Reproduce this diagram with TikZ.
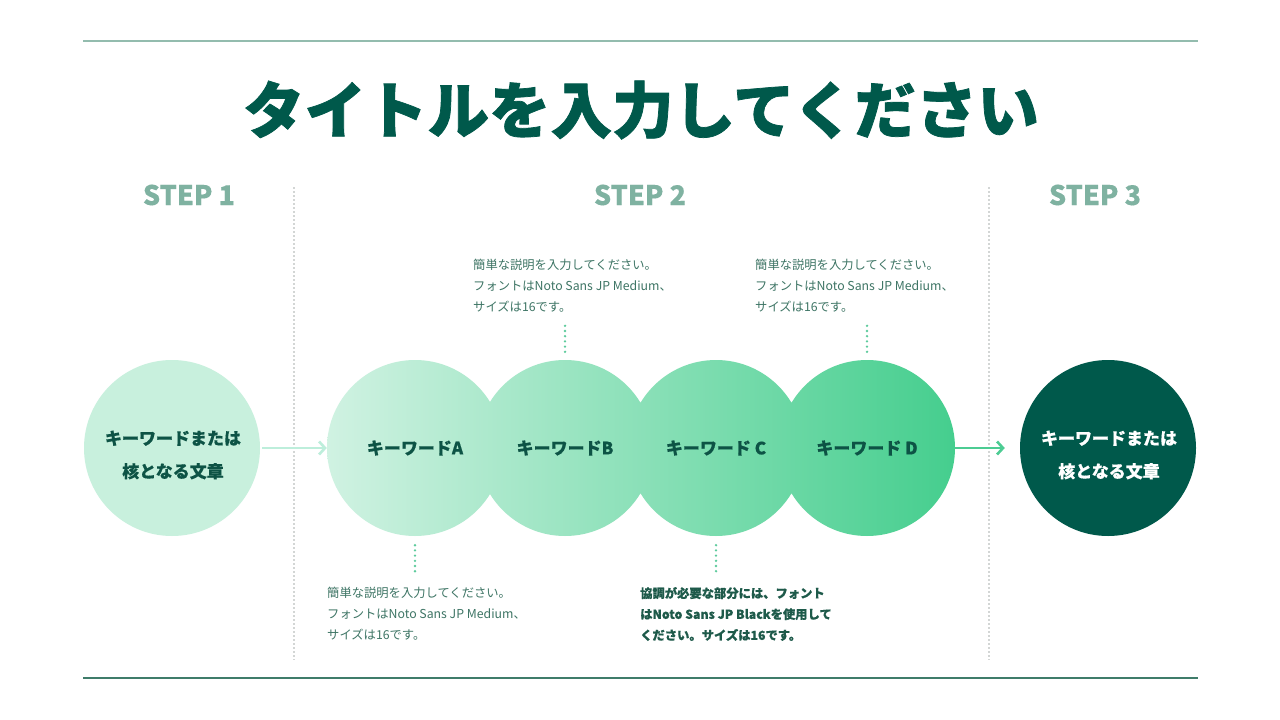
\documentclass[tikz,border=0pt]{standalone}
\usepackage{fontspec}
\setmainfont{Noto Sans CJK JP}[BoldFeatures={FakeBold=0.4}]
\newfontfamily\titlefont{Noto Sans CJK JP}[BoldFeatures={FakeBold=1.2}]
\usetikzlibrary{arrows.meta,calc}
\definecolor{titlec}{HTML}{00594B}
\definecolor{stepc}{HTML}{7FB2A1}
\definecolor{topline}{HTML}{93BCAE}
\definecolor{botline}{HTML}{3F7C6A}
\definecolor{descc}{HTML}{3E7565}
\definecolor{boldc}{HTML}{1E5A4A}
\definecolor{kwc}{HTML}{0D5345}
\definecolor{c1fill}{HTML}{C8F0DD}
\definecolor{arr1c}{HTML}{BDEEDB}
\definecolor{arr2c}{HTML}{4CCC93}
\definecolor{gradl}{HTML}{D0F2E2}
\definecolor{gradr}{HTML}{45CE8E}
\definecolor{dotc}{HTML}{5CCB9C}
\definecolor{vdot}{HTML}{D3D6D5}
\tikzset{
  kw/.style={circle, minimum size=176pt, inner sep=0pt, align=center,
    text=kwc, font=\bfseries\fontsize{17}{33}\selectfont},
  kwtext/.style={inner sep=0pt, align=center, text=kwc, font=\bfseries\fontsize{17}{33}\selectfont},
  steplabel/.style={text=stepc, font=\bfseries\fontsize{27}{30}\selectfont, inner sep=0pt},
  desc/.style={anchor=west, align=left, inner sep=0pt, text=descc,
    font=\fontsize{12.3}{21}\selectfont},
  descbold/.style={desc, text=boldc, font=\bfseries\fontsize{12.3}{21}\selectfont},
  vsep/.style={draw=vdot, line width=1.5pt, dash pattern=on 1.5pt off 2.5pt},
  dotline/.style={draw=dotc, line width=2.6pt, line cap=round, dash pattern=on 0pt off 5.2pt},
  flow/.style={line width=2.6pt, -{Straight Barb[length=6pt,width=13pt,line width=2.6pt]}},
}
\begin{document}
\begin{tikzpicture}[x=1pt,y=-1pt]
\useasboundingbox (0,0) rectangle (1280,720);
\fill[white] (0,0) rectangle (1280,720);
% top and bottom rules
\draw[topline, line width=2pt] (83,41) -- (1198,41);
\draw[botline, line width=2pt] (83,678) -- (1198,678);
% title
\node[text=titlec, font=\titlefont\bfseries\fontsize{61.5}{70}\selectfont, inner sep=0pt] (title) at (641,110) {タイトルを入力してください};
% step labels
\node[steplabel] (st1) at (189,195) {STEP 1};
\node[steplabel] (st2) at (640,195) {STEP 2};
\node[steplabel] (st3) at (1095,195) {STEP 3};
% separators
\draw[vsep] (294,187) -- (294,660);
\draw[vsep] (989,187) -- (989,660);
% gradient union of step 2 circles
\shade[left color=gradl, right color=gradr]
  (415,448) circle[radius=88pt] (565,448) circle[radius=88pt]
  (716,448) circle[radius=88pt] (867,448) circle[radius=88pt];
% circles
\node[kw, fill=c1fill] (s1) at (172,448) {};
\node[kwtext] (s1t) at (173,455) {キーワードまたは\\核となる文章};
\node[kw] (ka) at (415,448) {キーワードA};
\node[kw] (kb) at (565,448) {キーワードB};
\node[kw] (kc) at (716,448) {キーワード C};
\node[kw] (kd) at (867,448) {キーワード D};
\node[kw, fill=titlec] (s3) at (1108,448) {};
\node[kwtext, text=white] (s3t) at (1109,455) {キーワードまたは\\核となる文章};
% flow arrows
\draw[flow, arr1c] ([xshift=2pt]s1.east) -- (ka.west);
\draw[flow, arr2c] (kd.east) -- ([xshift=-15pt]s3.west);
% descriptions
\node[desc] (db) at (473,286) {簡単な説明を入力してください。\\フォントはNoto Sans JP Medium、\\サイズは16です。};
\node[desc] (dd) at (755,286) {簡単な説明を入力してください。\\フォントはNoto Sans JP Medium、\\サイズは16です。};
\node[desc] (da) at (327,614) {簡単な説明を入力してください。\\フォントはNoto Sans JP Medium、\\サイズは16です。};
\node[descbold] (dc) at (640,614) {協調が必要な部分には、フォント\\はNoto Sans JP Blackを使用して\\ください。サイズは16です。};
% dotted connectors
\draw[dotline] ([yshift=8pt]kb.north) -- ([yshift=38pt]kb.north);
\draw[dotline] ([yshift=8pt]kd.north) -- ([yshift=38pt]kd.north);
\draw[dotline] ([yshift=-9pt]ka.south) -- ([yshift=-40pt]ka.south);
\draw[dotline] ([yshift=-9pt]kc.south) -- ([yshift=-40pt]kc.south);
\end{tikzpicture}
\end{document}
